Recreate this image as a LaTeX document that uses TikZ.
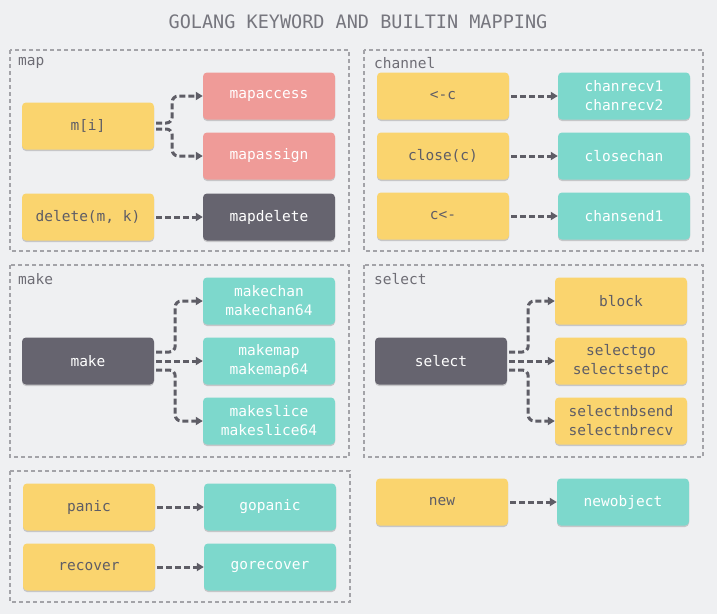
\documentclass[tikz,border=0pt]{standalone}
\usepackage{fontspec}
\setmonofont{DejaVu Sans Mono}
\usetikzlibrary{arrows.meta,calc,shadows}

\definecolor{bg}{HTML}{EFF0F2}
\definecolor{kwyellow}{HTML}{FAD46E}
\definecolor{fnpink}{HTML}{EF9B98}
\definecolor{fnteal}{HTML}{7DD8CC}
\definecolor{fndark}{HTML}{66646F}
\definecolor{inkgray}{HTML}{5E5D66}
\definecolor{framegray}{HTML}{A3A3A8}
\definecolor{titlegray}{HTML}{76767E}

\tikzset{
box/.style={
  rectangle,
  rounded corners=4pt,
  minimum width=132pt,
  minimum height=47pt,
  align=center,
  inner sep=0pt,
  font=\ttfamily\fontsize{14.5}{19}\selectfont,
  drop shadow={shadow xshift=0pt, shadow yshift=-1.5pt, opacity=0.25, fill=black!70},
},
keyword/.style={box, fill=kwyellow, text=inkgray},
tealfn/.style={box, fill=fnteal, text=white},
pinkfn/.style={box, fill=fnpink, text=white},
darkfn/.style={box, fill=fndark, text=white},
grouplabel/.style={
  draw=none,
  anchor=west,
  inner sep=0pt,
  text=inkgray!90,
  font=\ttfamily\fontsize{14.5}{17}\selectfont,
},
groupframe/.style={draw=framegray, line width=1.5pt, dash pattern=on 4pt off 3pt},
flow/.style={draw=inkgray, line width=3pt, dash pattern=on 6pt off 3pt, rounded corners=6pt, -{Triangle[length=7pt,width=8pt]}},
}

\begin{document}
\begin{tikzpicture}[x=1pt, y=-1pt]
\useasboundingbox[fill=bg] (0,0) rectangle (717,614);
\node[text=titlegray, font=\ttfamily\fontsize{18.5}{22}\selectfont](title) at (358,22) {GOLANG KEYWORD AND BUILTIN MAPPING};

%map
\draw[groupframe] (10,50) rectangle (349,251);
\node[grouplabel](maplabel) at (18,63) {map};
\node[keyword](mi) at (88,126) {m[i]};
\node[pinkfn](mapaccess) at (269,96) {mapaccess};
\node[pinkfn](mapassign) at (269,156) {mapassign};
\node[keyword](delete) at (88,217) {delete(m, k)};
\node[darkfn](mapdelete) at (269,217) {mapdelete};

\draw[flow] ($(mi.east)+(2,-3)$) -- ++(16,0) |- (mapaccess.west);
\draw[flow] ($(mi.east)+(2,3)$) -- ++(16,0) |- (mapassign.west);
\draw[flow] ($(delete.east)+(2,0)$) -- (mapdelete.west);

%channel
\draw[groupframe] (364,50) rectangle (703,251);
\node[grouplabel](chanlabel) at (374,63) {channel};
\node[keyword](recv) at (443,96) {<-c};
\node[tealfn](chanrecv) at (624,96) {chanrecv1\\chanrecv2};
\node[keyword](close) at (443,156) {close(c)};
\node[tealfn](closechan) at (624,156) {closechan};
\node[keyword](send) at (443,216) {c<-};
\node[tealfn](chansend) at (624,216) {chansend1};

\draw[flow] ($(recv.east)+(2,0)$) -- (chanrecv.west);
\draw[flow] ($(close.east)+(2,0)$) -- (closechan.west);
\draw[flow] ($(send.east)+(2,0)$) -- (chansend.west);

%make
\draw[groupframe] (10,265) rectangle (349,457);
\node[grouplabel](makelabel) at (18,279) {make};
\node[darkfn](make) at (88,361) {make};
\node[tealfn](makechan) at (269,301) {makechan\\makechan64};
\node[tealfn](makemap) at (269,361) {makemap\\makemap64};
\node[tealfn](makeslice) at (269,421) {makeslice\\makeslice64};

\draw[flow] ($(make.east)+(2,-9)$) -- ++(19,0) |- (makechan.west);
\draw[flow] ($(make.east)+(2,0)$) -- (makemap.west);
\draw[flow] ($(make.east)+(2,9)$) -- ++(19,0) |- (makeslice.west);

%select
\draw[groupframe] (364,265) rectangle (703,457);
\node[grouplabel](selectlabel) at (374,279) {select};
\node[darkfn](select) at (441,361) {select};
\node[keyword](block) at (621,301) {block};
\node[keyword](selectgo) at (621,361) {selectgo\\selectsetpc};
\node[keyword](selectnb) at (621,421) {selectnbsend\\selectnbrecv};

\draw[flow] ($(select.east)+(2,-9)$) -- ++(19,0) |- (block.west);
\draw[flow] ($(select.east)+(2,0)$) -- (selectgo.west);
\draw[flow] ($(select.east)+(2,9)$) -- ++(19,0) |- (selectnb.west);

%panic and recover
\draw[groupframe] (10,471) rectangle (350,602);
\node[keyword](panic) at (89,507) {panic};
\node[tealfn](gopanic) at (270,507) {gopanic};
\node[keyword](recover) at (89,567) {recover};
\node[tealfn](gorecover) at (270,567) {gorecover};

\draw[flow] ($(panic.east)+(2,0)$) -- (gopanic.west);
\draw[flow] ($(recover.east)+(2,0)$) -- (gorecover.west);

%new
\node[keyword](new) at (442,502) {new};
\node[tealfn](newobject) at (623,502) {newobject};

\draw[flow] ($(new.east)+(2,0)$) -- (newobject.west);

\end{tikzpicture}
\end{document}
